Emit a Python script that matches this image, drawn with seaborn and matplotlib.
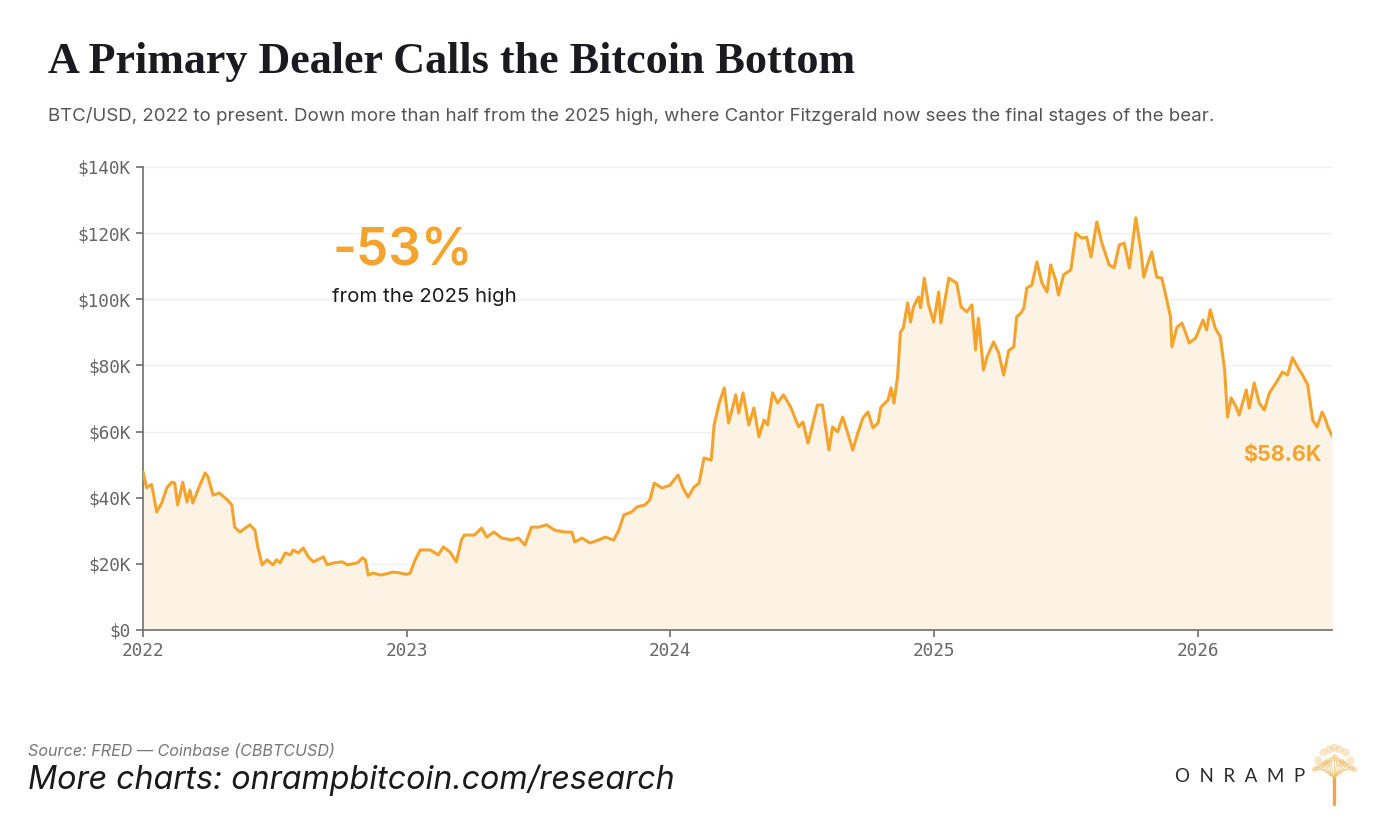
import matplotlib
matplotlib.use("Agg")
import matplotlib.pyplot as plt
import matplotlib.dates as mdates
from matplotlib.ticker import FuncFormatter
import seaborn as sns
import pandas as pd

# BTC/USD, in thousands of dollars
d22 = ["01-01", "01-06", "01-13", "01-20", "01-27", "02-03", "02-10", "02-14", "02-18", "02-25",
       "03-03", "03-07", "03-11", "03-18", "03-28", "04-01", "04-08", "04-17", "04-28", "05-04",
       "05-08", "05-15", "05-29", "06-05", "06-09", "06-15", "06-22", "06-30", "07-05", "07-10",
       "07-17", "07-24", "07-28", "08-04", "08-11", "08-18", "08-25", "09-08", "09-13", "09-22",
       "10-04", "10-11", "10-25", "11-01", "11-05", "11-09", "11-16", "11-26", "12-14", "12-24"]
p22 = [47.8, 43.0, 44.0, 35.7, 38.4, 43.0, 44.7, 44.4, 37.8, 44.7,
       38.7, 42.3, 38.4, 42.3, 47.5, 46.3, 40.8, 41.4, 39.3, 37.8,
       31.1, 29.6, 31.8, 30.2, 25.1, 19.7, 21.2, 19.7, 21.2, 20.3,
       23.3, 22.7, 24.2, 23.3, 24.8, 22.1, 20.6, 22.1, 19.7, 20.3,
       20.6, 19.7, 20.3, 21.8, 21.2, 16.6, 17.2, 16.6, 17.5, 17.2]

d23 = ["01-01", "01-06", "01-13", "01-20", "02-03", "02-14", "02-21", "03-02", "03-11", "03-18",
       "03-22", "04-05", "04-15", "04-22", "05-02", "05-13", "05-27", "06-05", "06-14", "06-23",
       "07-03", "07-14", "07-25", "08-08", "08-18", "08-22", "09-01", "09-12", "09-24", "10-03",
       "10-15", "10-22", "10-29", "11-09", "11-16", "11-27", "12-04", "12-10", "12-21"]
p23 = [16.8, 17.2, 21.2, 24.2, 24.2, 22.7, 25.1, 23.6, 20.6, 27.2,
       28.7, 28.7, 30.8, 28.1, 29.6, 27.8, 27.2, 27.8, 25.7, 31.1,
       31.1, 31.8, 30.2, 29.6, 29.6, 26.6, 27.8, 26.3, 27.2, 28.1,
       27.2, 30.2, 34.8, 35.7, 37.2, 37.8, 39.3, 44.4, 42.9]

d24 = ["01-01", "01-12", "01-19", "01-26", "02-03", "02-10", "02-17", "02-27", "03-02", "03-09",
       "03-16", "03-22", "04-01", "04-05", "04-11", "04-19", "04-26", "05-03", "05-10", "05-15",
       "05-22", "05-29", "06-06", "06-16", "06-27", "07-03", "07-10", "07-23", "07-30", "08-08",
       "08-13", "08-20", "08-27", "09-03", "09-10", "09-17", "09-24", "10-01", "10-08", "10-15",
       "10-19", "10-29", "11-02", "11-06", "11-11", "11-15", "11-19", "11-25", "11-29", "12-03",
       "12-10", "12-13", "12-18", "12-24", "12-31"]
p24 = [43.8, 46.9, 42.9, 40.2, 43.2, 44.4, 52.0, 51.4, 62.0, 68.6,
       73.2, 62.6, 71.1, 65.6, 71.7, 62.0, 67.1, 58.4, 63.5, 62.0,
       71.7, 68.6, 71.1, 67.4, 61.4, 62.9, 56.5, 68.0, 68.0, 54.4,
       61.4, 59.9, 64.4, 59.6, 54.4, 59.6, 64.1, 65.9, 61.1, 62.6,
       67.4, 69.6, 73.2, 68.6, 76.5, 90.1, 91.3, 98.9, 93.1, 97.7,
       100.7, 97.4, 106.4, 98.3, 93.1]

d25 = ["01-07", "01-10", "01-21", "02-01", "02-07", "02-15", "02-22", "02-27", "03-03", "03-10",
       "03-15", "03-24", "03-31", "04-07", "04-14", "04-21", "04-25", "05-01", "05-05", "05-09",
       "05-16", "05-23", "05-30", "06-06", "06-11", "06-18", "06-22", "06-29", "07-09", "07-16",
       "07-24", "07-31", "08-06", "08-14", "08-21", "08-31", "09-07", "09-14", "09-21", "09-28",
       "10-07", "10-14", "10-18", "10-23", "10-29", "11-05", "11-12", "11-18", "11-24", "11-26",
       "12-03", "12-10", "12-20", "12-29"]
p25 = [102.2, 92.8, 106.4, 104.9, 97.7, 96.2, 98.3, 84.7, 94.3, 78.6,
       82.6, 87.1, 83.8, 77.1, 84.5, 85.6, 94.7, 95.9, 97.4, 103.4,
       104.3, 111.3, 104.9, 102.2, 110.4, 105.8, 101.3, 107.4, 108.9, 120.0,
       118.5, 118.8, 112.8, 123.4, 117.0, 110.4, 109.5, 116.4, 117.0, 109.5,
       124.6, 114.9, 106.7, 110.4, 114.3, 106.7, 106.4, 100.7, 94.7, 85.6,
       91.6, 92.8, 86.8, 88.3]

d26 = ["01-08", "01-13", "01-18", "01-25", "02-01", "02-07", "02-11", "02-16", "02-23", "02-27",
       "03-09", "03-13", "03-20", "03-27", "04-03", "04-10", "04-20", "04-28", "05-05", "05-12",
       "05-19", "05-26", "06-02", "06-09", "06-15", "06-22", "06-26", "06-30", "07-06"]
p26 = [93.7, 90.7, 96.8, 91.3, 88.6, 78.6, 64.4, 70.2, 67.4, 65.0,
       72.6, 67.1, 74.7, 68.6, 66.5, 71.7, 75.0, 78.0, 77.1, 82.3,
       79.5, 77.1, 74.1, 63.5, 61.4, 65.9, 64.1, 61.4, 58.6]

year_ticks = ["2022", "2023", "2024", "2025", "2026"]
y_ticks = [0, 20, 40, 60, 80, 100, 120, 140]

frames = []
for yr, d, p in [("2022", d22, p22), ("2023", d23, p23), ("2024", d24, p24),
                 ("2025", d25, p25), ("2026", d26, p26)]:
    frames.append(pd.DataFrame({"date": pd.to_datetime([f"{yr}-{x}" for x in d]),
                                "price": [v * 1000 for v in p]}))
df = pd.concat(frames, ignore_index=True)

ORANGE = "#F4A32C"
FILL = "#FDF3E4"
GRID = "#EEEEEE"
AXIS = "#6E6E6E"

sns.set_theme(style="white")
plt.rcParams["font.family"] = ["Inter", "DejaVu Sans"]

fig = plt.figure(figsize=(13.95, 8.25), dpi=100)
fig.patch.set_facecolor("white")
ax = fig.add_axes([0.1025, 0.2364, 0.8525, 0.5612])

ax.fill_between(df["date"], df["price"], 0, color=FILL, lw=0, zorder=1)
sns.lineplot(data=df, x="date", y="price", color=ORANGE, lw=2.2, ax=ax, zorder=3)

ax.set_xlim(df["date"].iloc[0], df["date"].iloc[-1])
ax.set_ylim(0, 140000)
ax.set_yticks([v * 1000 for v in y_ticks])
ax.yaxis.set_major_formatter(FuncFormatter(lambda v, _: "$0" if v == 0 else f"${int(v/1000)}K"))
ax.set_xticks(pd.to_datetime([f"{y}-01-01" for y in year_ticks]))
ax.xaxis.set_major_formatter(mdates.DateFormatter("%Y"))
ax.set_xlabel("")
ax.set_ylabel("")

ax.grid(axis="y", color=GRID, lw=0.9, zorder=0)
ax.grid(axis="x", visible=False)
for s in ["top", "right"]:
    ax.spines[s].set_visible(False)
for s in ["left", "bottom"]:
    ax.spines[s].set_color(AXIS)
    ax.spines[s].set_linewidth(1.2)
ax.tick_params(axis="both", direction="out", length=5, width=1.2, color=AXIS,
               labelcolor="#666666", labelsize=12.8, pad=4, left=True, bottom=True)
for lab in ax.get_xticklabels() + ax.get_yticklabels():
    lab.set_family("DejaVu Sans Mono")

# annotations
fig.text(403 / 1395, 1 - 252 / 825, "-53%", color=ORANGE, fontsize=37, fontweight="semibold",
         ha="center", va="center", family=["Inter", "DejaVu Sans"])
fig.text(424 / 1395, 1 - 297 / 825, "from the 2025 high", color="#1A1A1A", fontsize=14.6,
         ha="center", va="center")
fig.text(1322 / 1395, 1 - 455 / 825, "$58.6K", color=ORANGE, fontsize=15.5, fontweight="bold",
         ha="right", va="center")

# titles
fig.text(48 / 1395, 1 - 62 / 825, "A Primary Dealer Calls the Bitcoin Bottom", color="#1B1B1F",
         fontsize=31.8, fontweight="bold", family=["Liberation Serif", "DejaVu Serif"],
         ha="left", va="center")
fig.text(48 / 1395, 1 - 116 / 825,
         "BTC/USD, 2022 to present. Down more than half from the 2025 high, where Cantor Fitzgerald now sees the final stages of the bear.",
         color="#555555", fontsize=13.45, ha="left", va="center")

# footer
fig.text(28 / 1395, 1 - 752 / 825, "Source: FRED \u2014 Coinbase (CBBTCUSD)", color="#777777",
         fontsize=11.6, style="italic", ha="left", va="center")
fig.text(28 / 1395, 1 - 780 / 825, "More charts: onrampbitcoin.com/research", color="#1A1A1A",
         fontsize=23.2, style="italic", ha="left", va="center")
fig.text(1305 / 1395, 1 - 776 / 825, "O  N  R  A  M  P", color="#2B2B2B", fontsize=13.5,
         ha="right", va="center", family=["Lato", "DejaVu Sans"])

# small tree mark next to the wordmark
tree = fig.add_axes([1310 / 1395, 1 - 806 / 825, 48 / 1395, 62 / 825])
tree.set_xlim(-1, 1)
tree.set_ylim(0, 2)
tree.axis("off")
GOLD = "#EDBE6A"
tree.plot([0, 0], [0.05, 0.9], color="#E8A94A", lw=2.4)
for k in range(-6, 7):
    tx, ty = k * 0.14, 1.6 - abs(k) * 0.07
    tree.plot([0, tx * 0.5, tx], [0.9, 1.15, ty], color=GOLD, lw=0.6, alpha=0.8)
    tree.scatter([tx], [ty], s=16, color=GOLD, alpha=0.45, lw=0)
tree.scatter([-0.45, -0.22, 0.0, 0.22, 0.45, -0.65, 0.65, -0.3, 0.3],
             [1.75, 1.85, 1.9, 1.85, 1.75, 1.5, 1.5, 1.4, 1.4],
             s=36, color=GOLD, alpha=0.35, lw=0)

fig.savefig("out.png", dpi=100, facecolor="white")
